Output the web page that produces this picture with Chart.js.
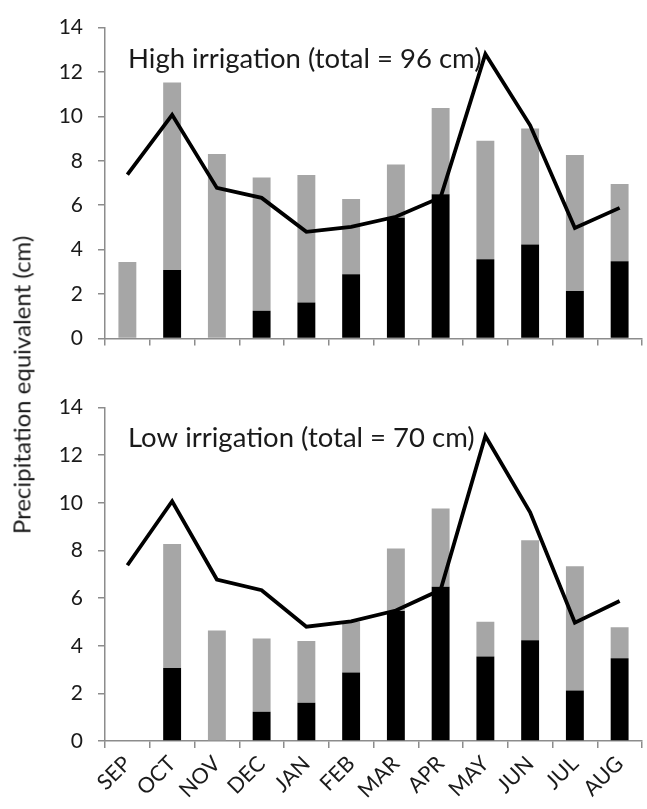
<!DOCTYPE html>
<html>
<head>
<meta charset="utf-8">
<script src="https://cdn.jsdelivr.net/npm/chart.js@4.4.1/dist/chart.umd.min.js"></script>
<style>
  html, body { margin: 0; padding: 0; background: #fff; }
  body { width: 647px; height: 809px; position: relative; overflow: hidden; font-family: Lato, sans-serif; }
  .panel { position: absolute; left: 0; width: 647px; }
  #ylabel {
    position: absolute; left: 21px; top: 385px;
    transform: translate(-50%, -50%) rotate(-90deg);
    white-space: nowrap; font-family: Lato, sans-serif; font-size: 24px; color: #1a1a1a;
  }
</style>
</head>
<body>
<div class="panel" style="top:0;height:366px;"><canvas id="c1" width="647" height="366"></canvas></div>
<div class="panel" style="top:380px;height:429px;"><canvas id="c2" width="647" height="429"></canvas></div>
<div id="ylabel">Precipitation equivalent (cm)</div>
<script>
const months = ['SEP','OCT','NOV','DEC','JAN','FEB','MAR','APR','MAY','JUN','JUL','AUG'];
const yTicks = [0, 2, 4, 6, 8, 10, 12, 14];

// Black segment (precipitation)
const highPrecip = [0, 3.08, 0, 1.24, 1.62, 2.89, 5.44, 6.49, 3.56, 4.23, 2.13, 3.47];
// Gray segment (irrigation) stacked above
const highIrrig  = [3.44, 8.45, 8.31, 6.01, 5.74, 3.39, 2.39, 3.89, 5.34, 5.23, 6.13, 3.48];

const lowPrecip  = [0, 3.07, 0, 1.23, 1.61, 2.88, 5.46, 6.48, 3.55, 4.23, 2.12, 3.47];
const lowIrrig   = [0, 5.20, 4.64, 3.07, 2.59, 2.14, 2.62, 3.28, 1.46, 4.20, 5.22, 1.31];

// Line series (same in both panels)
const demandLine = [7.38, 10.07, 6.78, 6.33, 4.80, 5.02, 5.48, 6.35, 12.81, 9.60, 4.97, 5.88];

const highTitle = 'High irrigation (total = 96 cm)';
const lowTitle  = 'Low irrigation (total = 70 cm)';

const FONT = 'Lato, sans-serif';
const AXIS_COLOR = '#8c8c8c';
const TEXT_COLOR = '#1a1a1a';

const panelTitle = {
  id: 'panelTitle',
  afterDraw(chart, args, opts) {
    const ctx = chart.ctx;
    const a = chart.chartArea;
    ctx.save();
    ctx.font = '27.5px ' + FONT;
    ctx.fillStyle = TEXT_COLOR;
    ctx.textAlign = 'left';
    ctx.textBaseline = 'middle';
    ctx.fillText(opts.text, a.left + opts.dx, a.top + opts.dy);
    ctx.restore();
  }
};

function makeChart(id, precip, irrig, title, showLabels, padTop, xHeight, dy) {
  return new Chart(document.getElementById(id), {
    type: 'bar',
    data: {
      labels: months,
      datasets: [
        { type: 'line', data: demandLine, borderColor: '#000', borderWidth: 3.8,
          pointRadius: 0, tension: 0, fill: false, order: 0, borderJoinStyle: 'miter' },
        { data: precip, backgroundColor: '#000', stack: 's', order: 1,
          barPercentage: 0.4, categoryPercentage: 1.0 },
        { data: irrig, backgroundColor: '#a6a6a6', stack: 's', order: 1,
          barPercentage: 0.4, categoryPercentage: 1.0 }
      ]
    },
    options: {
      responsive: false,
      animation: false,
      events: [],
      layout: { padding: { top: padTop, right: 5, left: 0, bottom: 0 } },
      plugins: {
        legend: { display: false },
        tooltip: { enabled: false },
        panelTitle: { text: title, dx: 23, dy: dy }
      },
      scales: {
        x: {
          stacked: true,
          offset: true,
          grid: { display: true, drawOnChartArea: false, offset: true, tickLength: 7, color: AXIS_COLOR, lineWidth: 1.5 },
          border: { display: true, color: AXIS_COLOR, width: 1.5 },
          ticks: {
            display: showLabels, maxRotation: 45, minRotation: 45, padding: 3,
            font: { family: FONT, size: 21.5 }, color: TEXT_COLOR
          },
          afterFit(scale) { scale.height = xHeight; }
        },
        y: {
          stacked: true,
          min: 0, max: 14,
          afterBuildTicks(scale) { scale.ticks = yTicks.map(v => ({ value: v })); },
          grid: { display: true, drawOnChartArea: false, tickLength: 7, color: AXIS_COLOR, lineWidth: 1.5 },
          border: { display: true, color: AXIS_COLOR, width: 1.5 },
          ticks: { padding: 15, font: { family: FONT, size: 21 }, color: TEXT_COLOR },
          afterFit(scale) { scale.width = 105; }
        }
      }
    },
    plugins: [panelTitle]
  });
}

makeChart('c1', highPrecip, highIrrig, highTitle, false, 16, 8, 32);
makeChart('c2', lowPrecip, lowIrrig, lowTitle, true, 19, 68, 31);
</script>
</body>
</html>
